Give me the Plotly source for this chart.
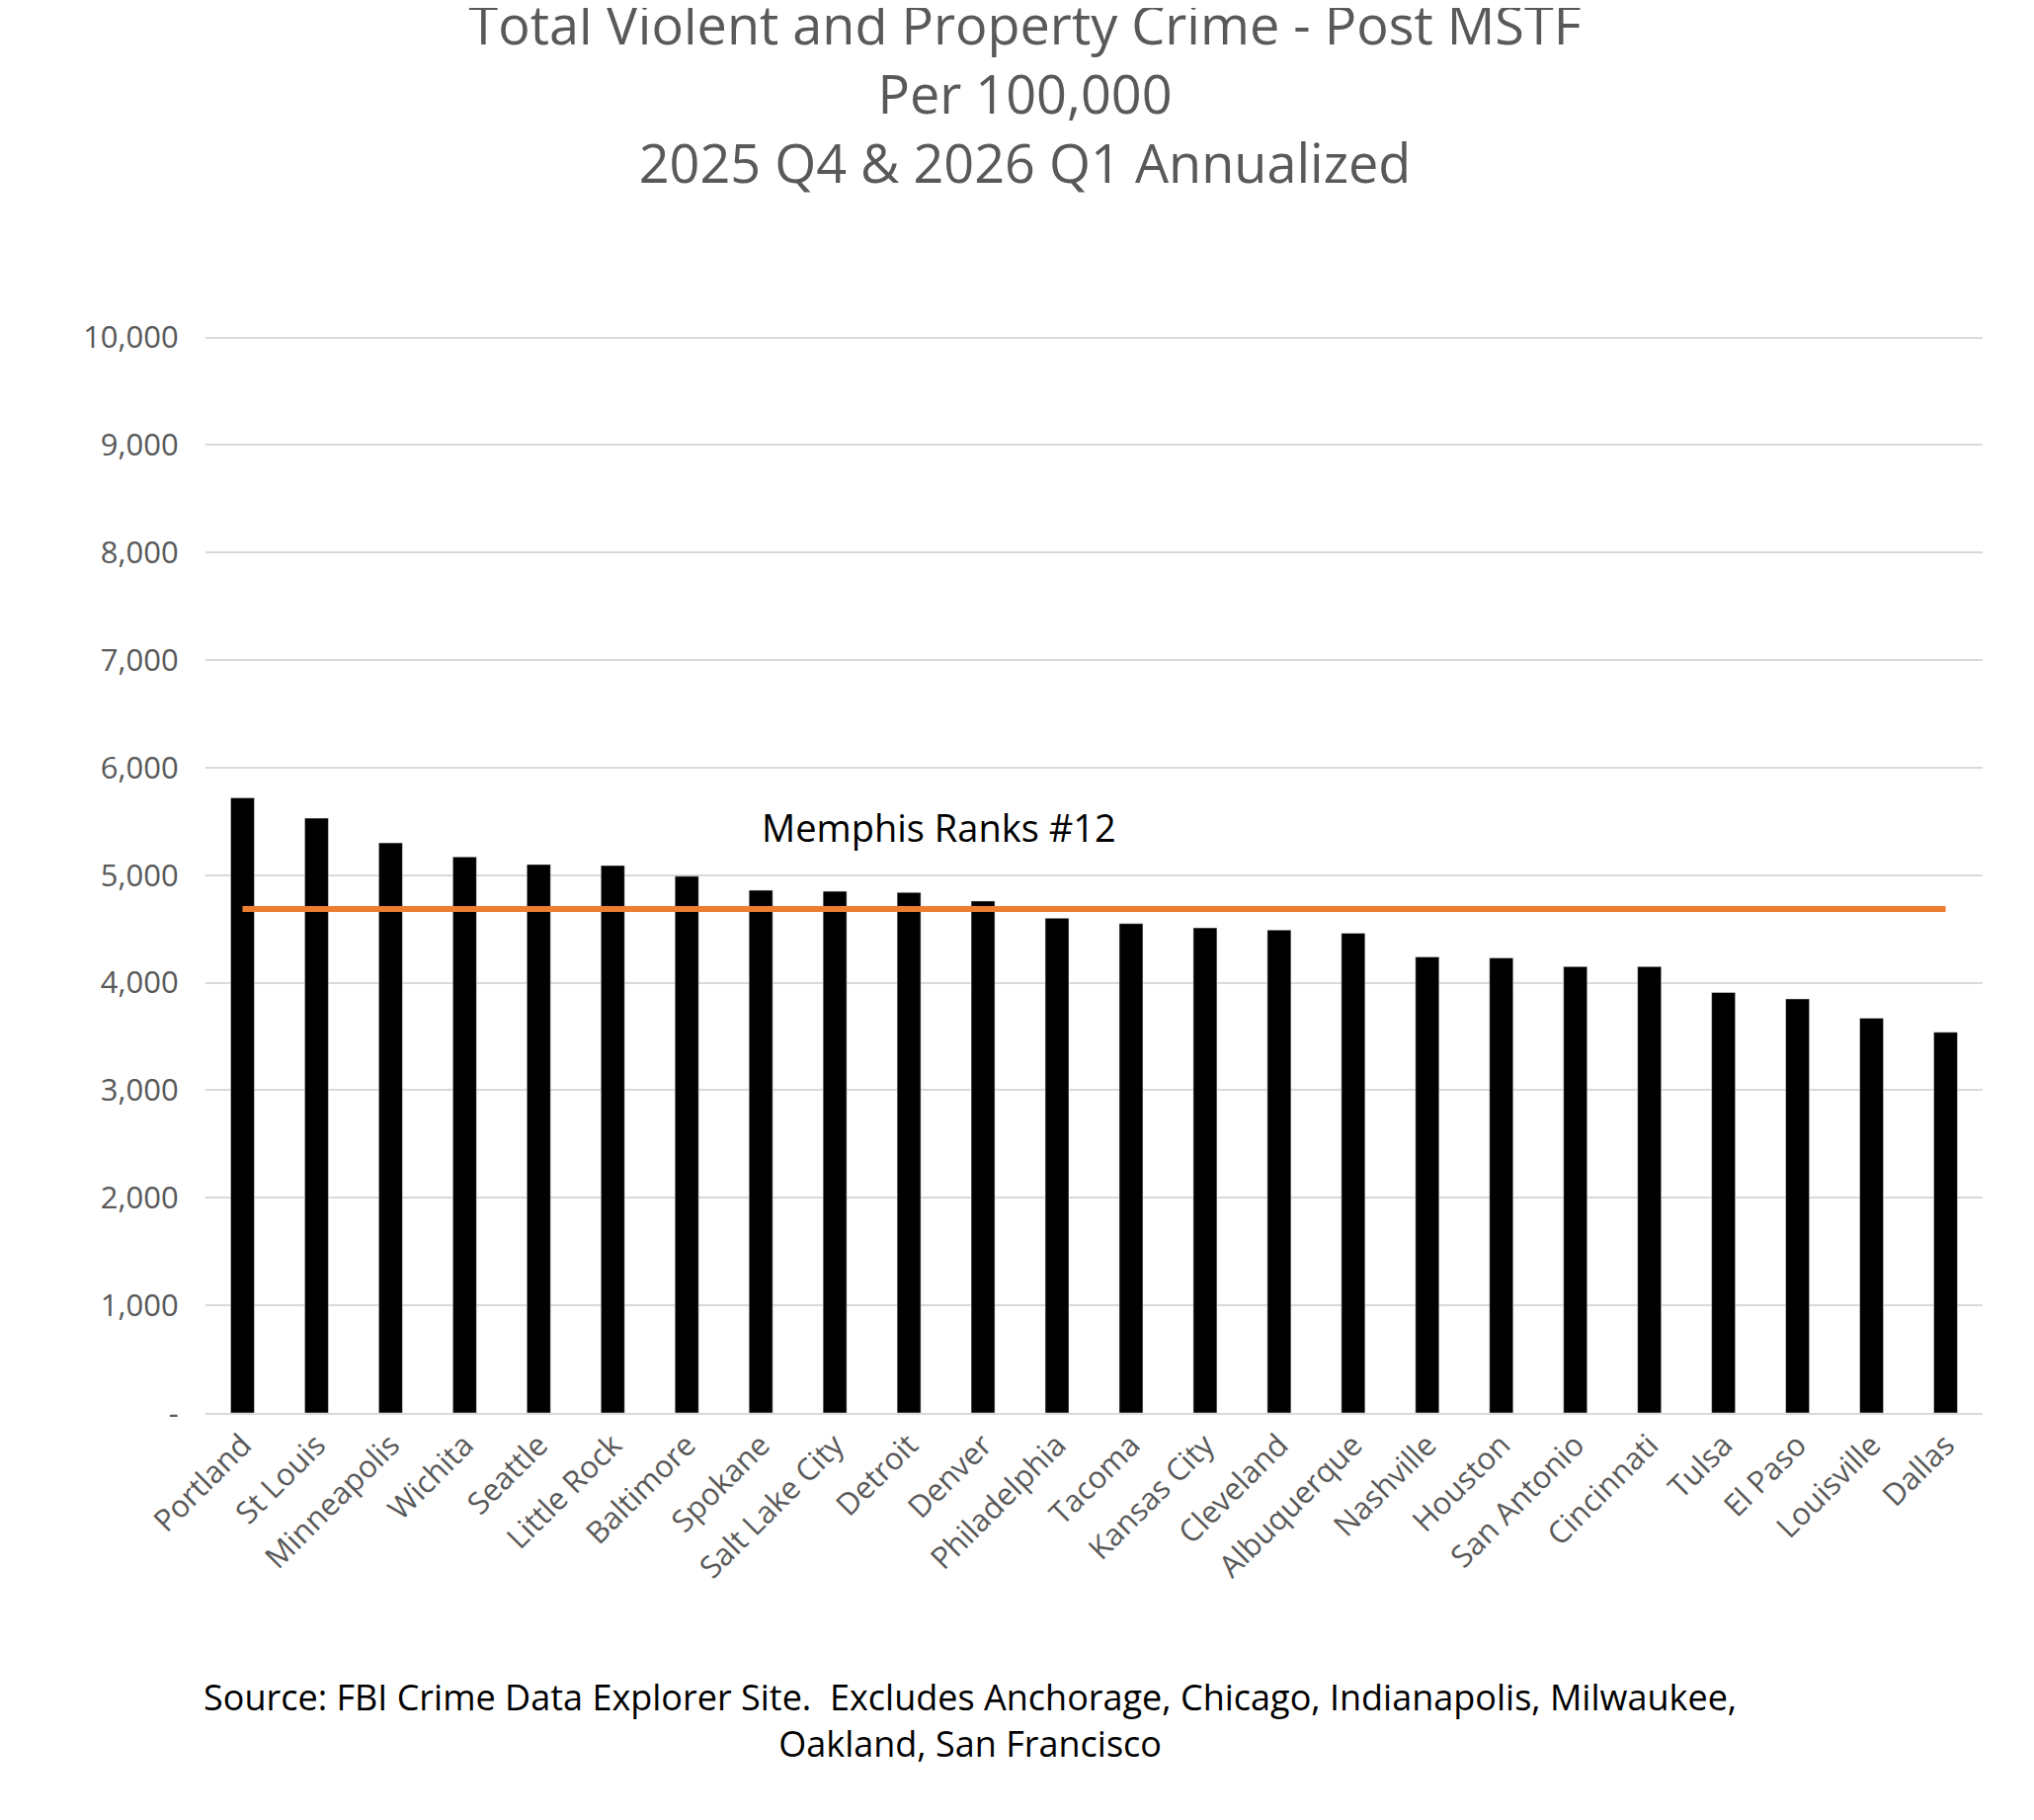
import plotly.graph_objects as go

cities = ["Portland", "St Louis", "Minneapolis", "Wichita", "Seattle", "Little Rock",
          "Baltimore", "Spokane", "Salt Lake City", "Detroit", "Denver", "Philadelphia",
          "Tacoma", "Kansas City", "Cleveland", "Albuquerque", "Nashville", "Houston",
          "San Antonio", "Cincinnati", "Tulsa", "El Paso", "Louisville", "Dallas"]
crime_rate = [5720, 5530, 5300, 5170, 5100, 5090, 4990, 4860, 4850, 4840, 4760, 4600,
              4550, 4510, 4490, 4460, 4240, 4230, 4150, 4150, 3910, 3850, 3670, 3540]
memphis_rate = 4685
memphis_line = [memphis_rate] * len(cities)

tick_vals = list(range(0, 10001, 1000))
tick_text = ["-"] + [f"{v:,}" for v in tick_vals[1:]]

font = "Open Sans, Noto Sans, sans-serif"
grey = "#595959"

fig = go.Figure()
fig.add_trace(go.Bar(x=cities, y=crime_rate, marker_color="black", width=0.32))
fig.add_trace(go.Scatter(x=cities, y=memphis_line, mode="lines",
                         line=dict(color="#ED7D31", width=6)))

fig.add_annotation(x=9.4, y=5450, text="Memphis Ranks #12", showarrow=False,
                   font=dict(size=38, color="black", family=font))
fig.add_annotation(xref="paper", yref="paper", x=0.43, y=-0.33, showarrow=False,
                   text="Source: FBI Crime Data Explorer Site.  Excludes Anchorage, Chicago, Indianapolis, Milwaukee,<br>Oakland, San Francisco",
                   font=dict(size=36, color="black", family=font), align="center")

fig.update_layout(
    width=2059, height=1842,
    paper_bgcolor="white", plot_bgcolor="white",
    showlegend=False,
    margin=dict(l=200, r=60, t=327, b=420),
    title=dict(text="Total Violent and Property Crime - Post MSTF<br>Per 100,000<br>2025 Q4 & 2026 Q1 Annualized",
               x=0.5, xanchor="center", y=0.98, yanchor="top",
               font=dict(size=54, color=grey, family=font)),
    bargap=0.6,
)
fig.update_yaxes(range=[0, 10060], tickvals=tick_vals, ticktext=tick_text,
                 gridcolor="#D9D9D9", gridwidth=2, zeroline=False,
                 tickfont=dict(size=31, color=grey, family=font),
                 ticks="outside", tickcolor="white", ticklen=20)
fig.update_xaxes(tickangle=-45, tickfont=dict(size=31, color=grey, family=font),
                 showline=True, linecolor="#D9D9D9", linewidth=2,
                 range=[-0.5, len(cities) - 0.5])

fig.write_html("out.html")
